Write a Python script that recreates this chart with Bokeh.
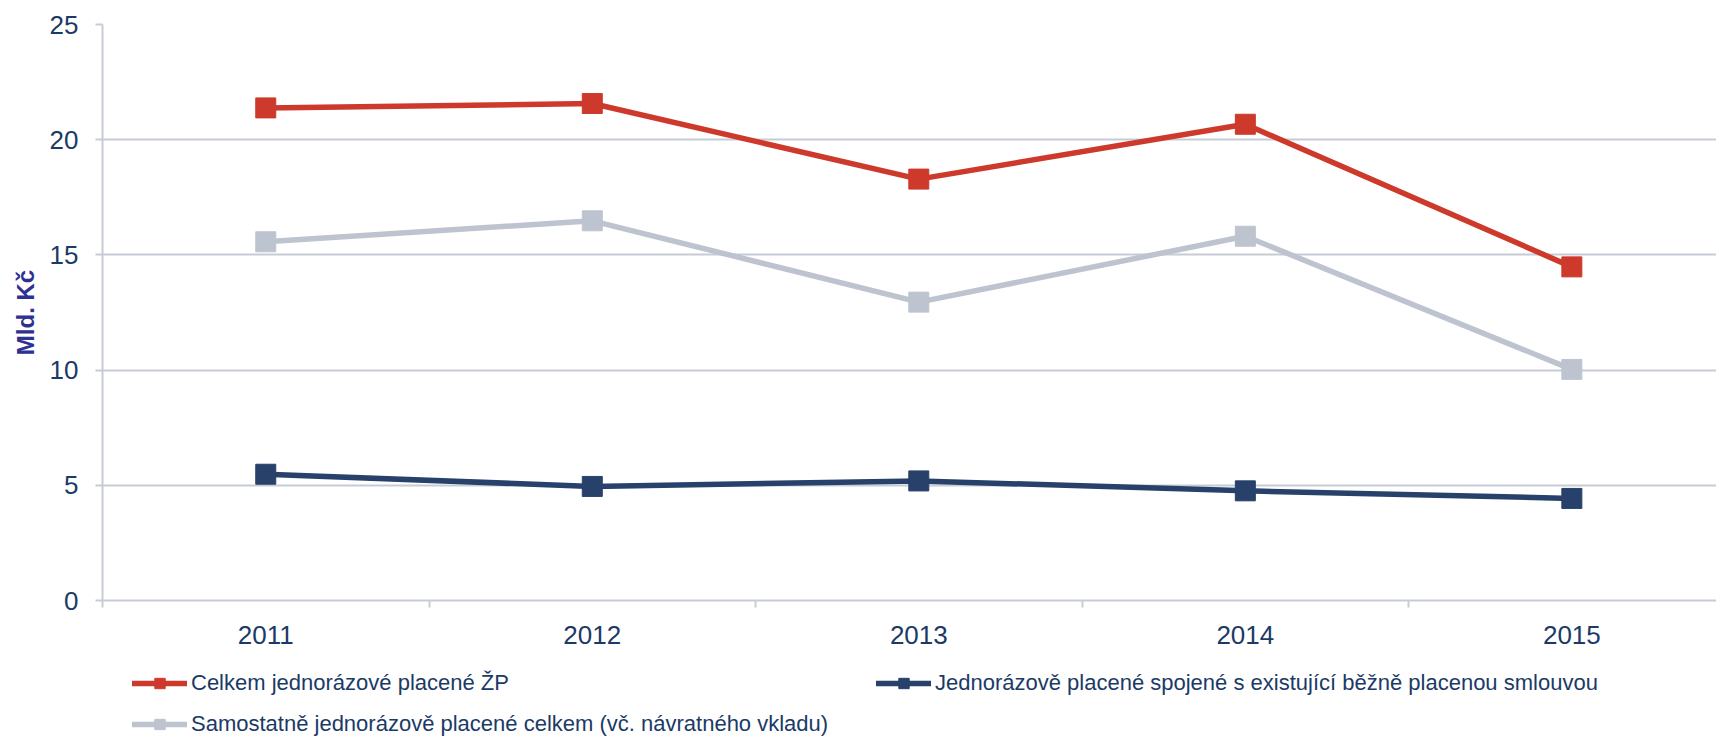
from bokeh.plotting import figure
from bokeh.models import Range1d, FixedTicker, Legend, LegendItem
from bokeh.layouts import column
from bokeh.embed import file_html
from bokeh.resources import INLINE

years = ["2011", "2012", "2013", "2014", "2015"]
celkem = [21.38, 21.57, 18.29, 20.67, 14.48]
spojene = [5.48, 4.95, 5.19, 4.76, 4.43]
samostatne = [15.57, 16.48, 12.95, 15.81, 10.03]

label_celkem = "Celkem jednorázové placené ŽP"
label_spojene = "Jednorázově placené spojené s existující běžně placenou smlouvou"
label_samostatne = "Samostatně jednorázově placené celkem (vč. návratného vkladu)"

RED = "#cd3a2b"
NAVY = "#27416a"
GRAY = "#bdc4d0"
GRID = "#c6cbd6"
TXT = "#1b3a66"
FONT = "Liberation Sans"

xs = list(range(len(years)))

p = figure(width=1716, height=650, output_backend="svg", toolbar_location=None,
           x_range=Range1d(-0.5, 4.443), y_range=Range1d(0, 25),
           min_border_left=102, min_border_right=0, min_border_top=24, min_border_bottom=50)
p.outline_line_color = None
p.background_fill_color = "white"

# axes
p.xaxis.ticker = FixedTicker(ticks=xs, minor_ticks=[i - 0.5 for i in range(len(years) + 1)])
p.xaxis.major_label_overrides = {i: y for i, y in zip(xs, years)}
p.xaxis.major_tick_out = 0
p.xaxis.major_tick_in = 0
p.xaxis.minor_tick_out = 7
p.xaxis.minor_tick_in = 0
p.xaxis.minor_tick_line_color = GRID
p.xaxis.minor_tick_line_width = 2
p.xaxis.axis_line_color = GRID
p.xaxis.axis_line_width = 2
p.xaxis.major_label_text_font = FONT
p.xaxis.major_label_text_font_size = "26px"
p.xaxis.major_label_text_color = TXT
p.xaxis.major_label_standoff = 18

p.yaxis.ticker = FixedTicker(ticks=[0, 5, 10, 15, 20, 25])
p.yaxis.major_tick_out = 7
p.yaxis.major_tick_in = 0
p.yaxis.minor_tick_line_color = None
p.yaxis.major_tick_line_color = GRID
p.yaxis.major_tick_line_width = 2
p.yaxis.axis_line_color = GRID
p.yaxis.axis_line_width = 2
p.yaxis.major_label_text_font = FONT
p.yaxis.major_label_text_font_size = "26px"
p.yaxis.major_label_text_color = TXT
p.yaxis.major_label_standoff = 17
p.yaxis.axis_label = "Mld. Kč"
p.yaxis.axis_label_text_font = FONT
p.yaxis.axis_label_text_font_size = "24px"
p.yaxis.axis_label_text_font_style = "bold"
p.yaxis.axis_label_text_color = "#2e3192"
p.yaxis.axis_label_standoff = 8

p.xgrid.grid_line_color = None
p.ygrid.ticker = FixedTicker(ticks=[5, 10, 15, 20, 25])
p.ygrid.grid_line_color = GRID
p.ygrid.grid_line_width = 2

# legend lives in a strip below the chart
lg = figure(width=1716, height=87, output_backend="svg", toolbar_location=None,
            x_range=Range1d(0, 1), y_range=Range1d(0, 1), x_axis_type=None, y_axis_type=None,
            min_border=0, min_border_left=0, min_border_right=0, min_border_top=0,
            min_border_bottom=0)
lg.outline_line_color = None
lg.grid.visible = False

nan = float("nan")
items = []
for vals, col, lab in [(celkem, RED, label_celkem), (spojene, NAVY, label_spojene),
                       (samostatne, GRAY, label_samostatne)]:
    p.line(xs, vals, line_color=col, line_width=5.5, line_join="round", line_cap="round")
    p.scatter(xs, vals, marker="square", size=20, fill_color=col, line_color=col)
    d1 = lg.line([nan], [nan], line_color=col, line_width=5.5, line_cap="round")
    d2 = lg.scatter([nan], [nan], marker="square", size=20, fill_color=col, line_color=col)
    items.append(LegendItem(label=lab, renderers=[d1, d2]))

legend = Legend(items=items, location=(30, 0), orientation="horizontal", ncols=2,
                glyph_width=55, glyph_height=26, label_standoff=4, label_width=670,
                label_height=26, spacing=15, padding=0, margin=0,
                border_line_color=None, background_fill_alpha=0,
                label_text_font=FONT, label_text_font_size="22px", label_text_color=TXT)
lg.add_layout(legend, "center")

open("out.html", "w").write(file_html(column(p, lg), INLINE))
